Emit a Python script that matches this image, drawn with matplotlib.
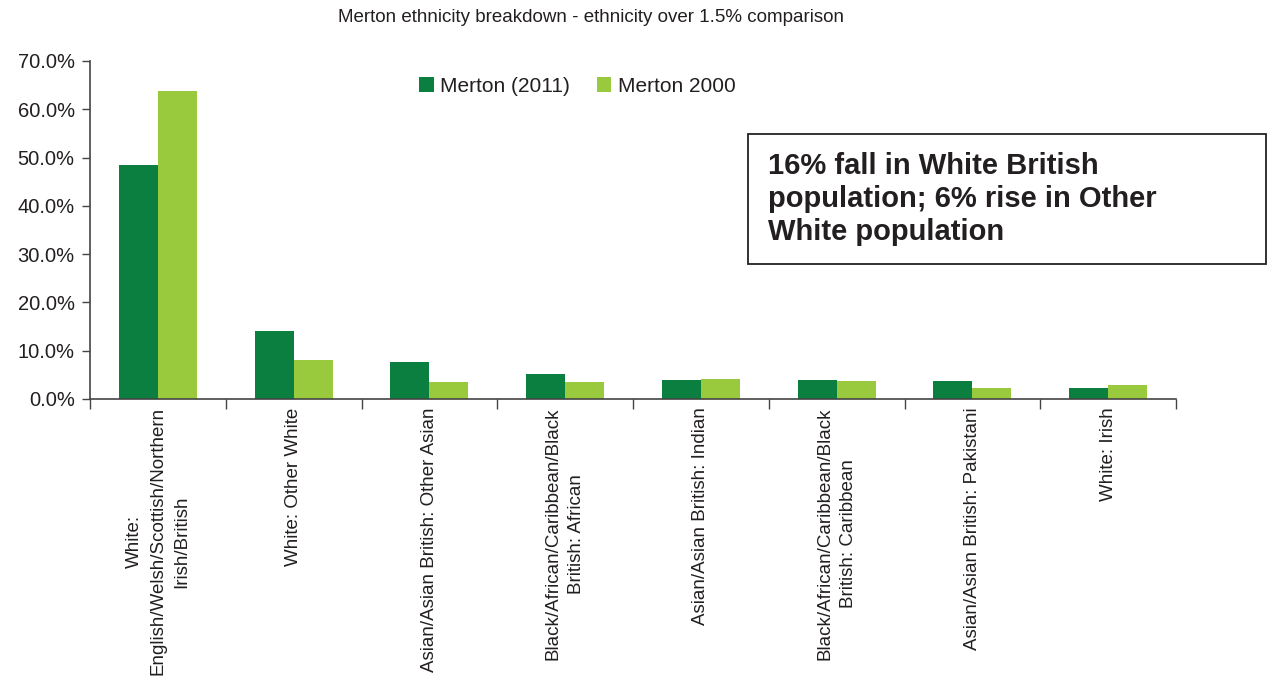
import numpy as np
import matplotlib
matplotlib.use('Agg')
import matplotlib.pyplot as plt
from matplotlib.patches import Rectangle

plt.rcParams['font.family'] = ['Liberation Sans', 'DejaVu Sans']

categories = ['White:\nEnglish/Welsh/Scottish/Northern\nIrish/British',
              'White: Other White',
              'Asian/Asian British: Other Asian',
              'Black/African/Caribbean/Black\nBritish: African',
              'Asian/Asian British: Indian',
              'Black/African/Caribbean/Black\nBritish: Caribbean',
              'Asian/Asian British: Pakistani',
              'White: Irish']
merton_2011 = [48.4, 14.1, 7.7, 5.2, 3.9, 3.9, 3.7, 2.3]
merton_2000 = [63.8, 8.1, 3.6, 3.6, 4.1, 3.7, 2.3, 2.9]

dark = '#0A7F3F'
light = '#99C93C'
txt = '#231F20'

W, H = 1269, 685
fig = plt.figure(figsize=(W / 100, H / 100), dpi=100)
ax = fig.add_axes([90 / W, 1 - 399 / H, (1176 - 90) / W, (399 - 61) / H])

x = np.arange(len(categories))
bw = 0.287
ax.bar(x - bw / 2, merton_2011, bw, color=dark, label='Merton (2011)')
ax.bar(x + bw / 2, merton_2000, bw, color=light, label='Merton 2000')

ax.set_xlim(-0.5, len(categories) - 0.5)
ax.set_ylim(0, 70)
ax.set_yticks(np.arange(0, 71, 10))
ax.set_yticklabels(['%.1f%%' % v for v in np.arange(0, 71, 10)], fontsize=14.5, color=txt)

ax.set_xticks(x)
ax.set_xticklabels(categories, rotation=90, ha='center', va='top',
                   multialignment='center', fontsize=13.5, color=txt, linespacing=1.5)
ax.set_xticks(np.arange(-0.5, len(categories), 1), minor=True)
ax.tick_params(axis='x', which='major', length=0, pad=6)
ax.tick_params(axis='x', which='minor', length=7, width=1, color='#444444', direction='out')
ax.tick_params(axis='y', length=6, width=1, color='#444444', pad=5)

for s in ['top', 'right']:
    ax.spines[s].set_visible(False)
for s in ['left', 'bottom']:
    ax.spines[s].set_color('#444444')
    ax.spines[s].set_linewidth(1.2)

fig.text(591 / W, 1 - 18 / H, 'Merton ethnicity breakdown - ethnicity over 1.5% comparison',
         ha='center', va='center', fontsize=13.5, color=txt)

fig.legend(loc='center left', bbox_to_anchor=(419 / W, 1 - 86 / H), ncol=2, frameon=False,
           handlelength=0.7, handleheight=0.7, handletextpad=0.3, columnspacing=1.3,
           borderpad=0, borderaxespad=0, prop={'size': 15}, labelcolor=txt)

fig.patches.append(Rectangle((748 / W, 1 - 264 / H), (1266 - 748) / W, (264 - 134) / H,
                             transform=fig.transFigure, fill=False, edgecolor='#222222', lw=1.3))
fig.text(768 / W, 1 - 152 / H, '16% fall in White British\npopulation; 6% rise in Other\nWhite population',
         ha='left', va='top', fontsize=21, fontweight='bold', color=txt, linespacing=1.22)

fig.savefig('out.png', dpi=100)
